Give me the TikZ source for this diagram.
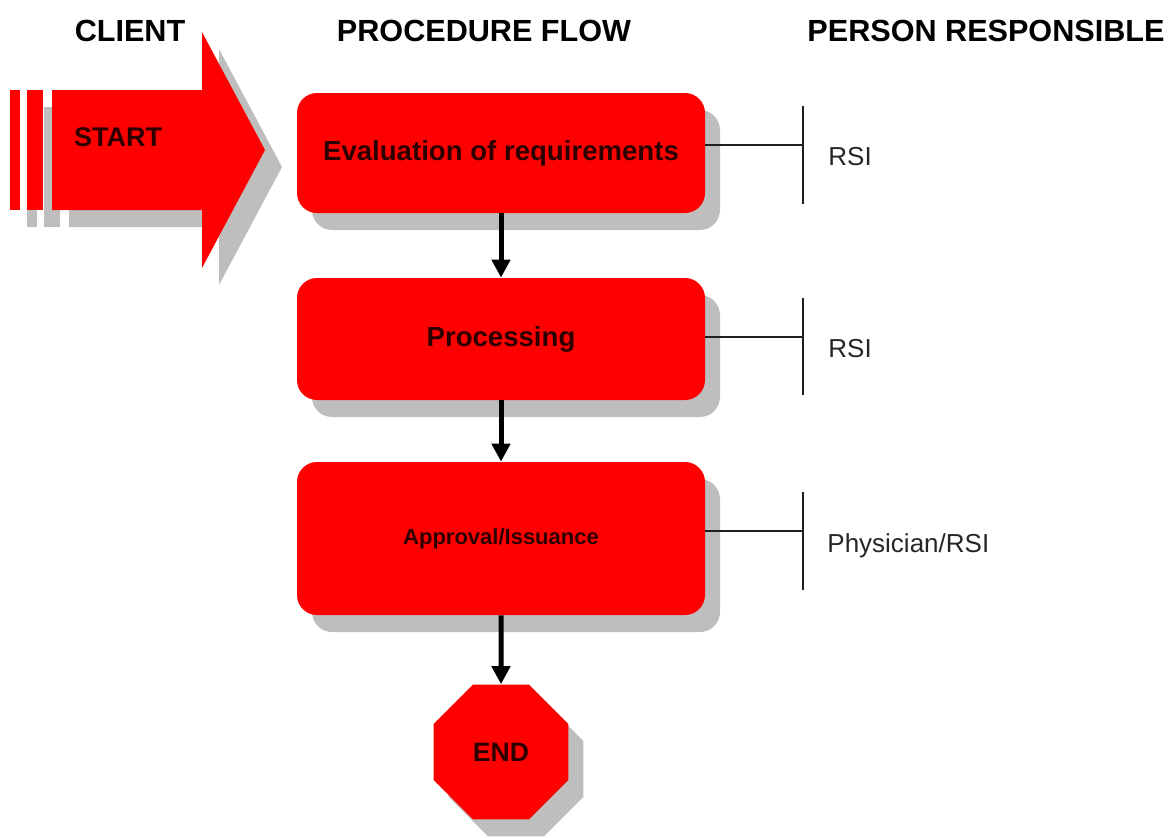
\documentclass[tikz,border=0pt]{standalone}
\usepackage{fontspec}
\setmainfont{Liberation Sans}
\usetikzlibrary{shapes.geometric,shadows,arrows.meta}
\definecolor{boxred}{RGB}{255,0,0}
\definecolor{shadowgray}{RGB}{190,190,190}
\definecolor{boxtext}{RGB}{45,0,0}
\definecolor{barline}{RGB}{30,30,30}

\begin{document}
\begin{tikzpicture}[x=0.5pt,y=-0.5pt,
  castshadow/.style={drop shadow={shadow xshift=7.5pt,shadow yshift=-8.5pt,fill=shadowgray,opacity=1}},
  flowbox/.style={rectangle,rounded corners=10pt,fill=boxred,castshadow,minimum width=204pt,inner sep=0pt,
    text=boxtext,font=\bfseries\fontsize{13.8}{16}\selectfont},
  flowarrow/.style={line width=2.5pt,-{Triangle[width=9pt,length=9pt]}},
  heading/.style={inner sep=0pt,font=\bfseries\fontsize{15.3}{18}\selectfont},
  person/.style={anchor=base west,inner sep=0pt,text=black!85,font=\fontsize{13}{15}\selectfont},
  personbar/.style={barline,line width=0.75pt}]
\useasboundingbox (0,0) rectangle (1168,837);

\node[heading] (client) at (130,31) {CLIENT};
\node[heading] (flow) at (484,31) {PROCEDURE FLOW};
\node[heading] (responsible) at (986,31) {PERSON RESPONSIBLE};

\fill[shadowgray,shift={(17,17)}] (52,90) -- (202,90) -- (202,32) -- (265,150) -- (202,268) -- (202,210) -- (52,210) -- cycle;
\fill[shadowgray,shift={(17,17)}] (10,90) rectangle (20,210);
\fill[shadowgray,shift={(17,17)}] (27,90) rectangle (43,210);
\fill[boxred] (52,90) -- (202,90) -- (202,32) -- (265,150) -- (202,268) -- (202,210) -- (52,210) -- cycle;
\fill[boxred] (10,90) rectangle (20,210);
\fill[boxred] (27,90) rectangle (43,210);
\node[inner sep=0pt,text=boxtext,font=\bfseries\fontsize{13.5}{16}\selectfont] (start) at (118,137) {START};

\node[flowbox,minimum height=60pt] (box1) at (501,153) {Evaluation of requirements};
\node[flowbox,minimum height=61pt] (box2) at (501,339) {Processing};
\node[flowbox,minimum height=76.5pt,font=\bfseries\fontsize{11}{13}\selectfont] (box3) at (501,538.5) {Approval/Issuance};
\node[regular polygon,regular polygon sides=8,minimum size=73pt,inner sep=0pt,fill=boxred,castshadow,
  text=boxtext,font=\bfseries\fontsize{13.3}{16}\selectfont] (end) at (501,752) {END};

\draw[flowarrow] (box1.south) -- (box2.north);
\draw[flowarrow] (box2.south) -- (box3.north);
\draw[flowarrow] (box3.south) -- (end.north);

\coordinate (tick1) at (803,145);
\coordinate (tick2) at (803,337);
\coordinate (tick3) at (803,531);
\draw[personbar] (box1.east |- tick1) -- (tick1);
\draw[personbar] (box2.east |- tick2) -- (tick2);
\draw[personbar] (box3.east |- tick3) -- (tick3);
\draw[personbar] (803,106) -- (803,204);
\draw[personbar] (803,298) -- (803,395);
\draw[personbar] (803,492) -- (803,590);

\node[person] (rsi1) at (828,165) {RSI};
\node[person] (rsi2) at (828,357) {RSI};
\node[person] (physician) at (827,552) {Physician/RSI};

\end{tikzpicture}
\end{document}
